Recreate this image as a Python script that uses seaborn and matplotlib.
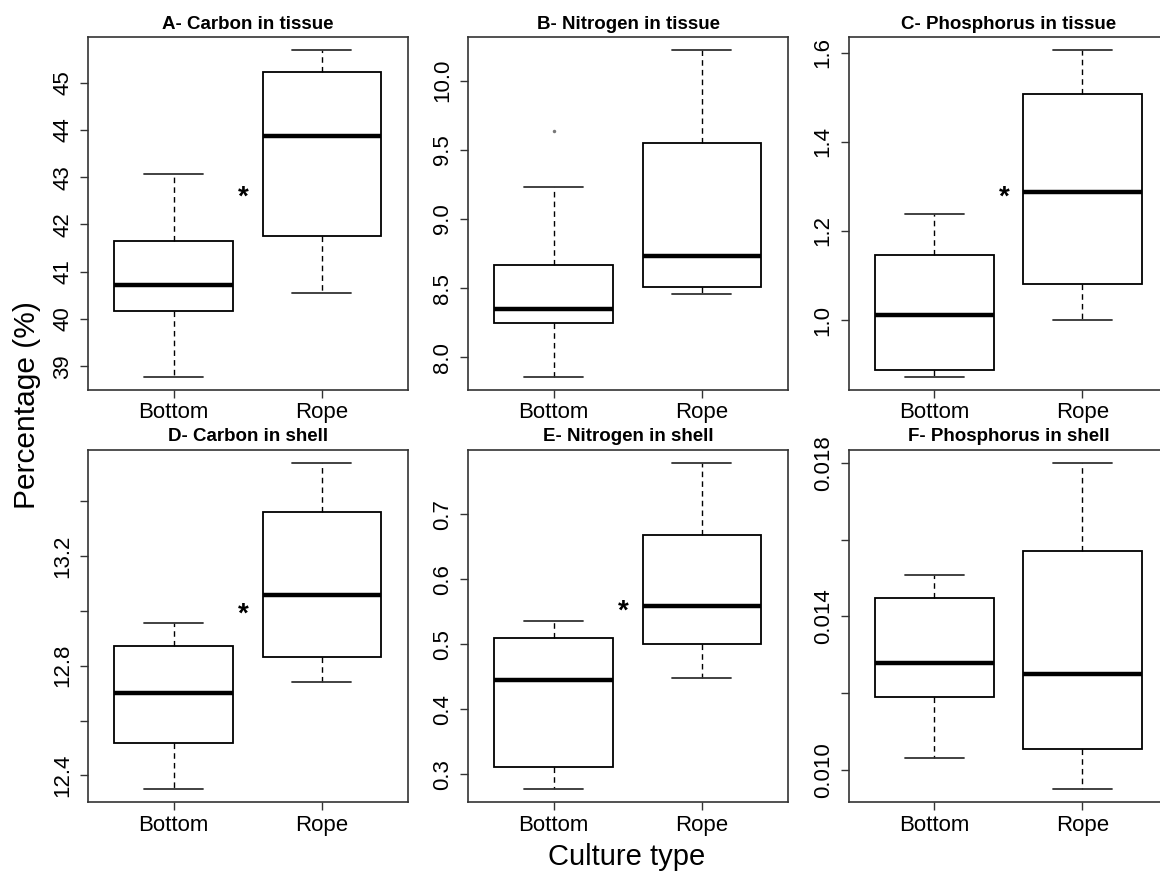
import numpy as np
import pandas as pd
import matplotlib
matplotlib.use('Agg')
import matplotlib.pyplot as plt
import seaborn as sns

# Five-number summaries (min, Q1, median, Q3, max)
groups = ['Bottom', 'Rope']

carbon_tissue_bottom = [38.78, 40.18, 40.72, 41.66, 43.06]
carbon_tissue_rope = [40.54, 41.76, 43.87, 45.23, 45.68]

nitrogen_tissue_bottom = [7.86, 8.25, 8.35, 8.67, 9.23]
nitrogen_tissue_rope = [8.46, 8.51, 8.73, 9.55, 10.22]
nitrogen_tissue_outlier = [9.64]  # Bottom

phosphorus_tissue_bottom = [0.873, 0.889, 1.012, 1.146, 1.237]
phosphorus_tissue_rope = [1.000, 1.081, 1.287, 1.507, 1.605]

carbon_shell_bottom = [12.35, 12.52, 12.70, 12.872, 12.956]
carbon_shell_rope = [12.74, 12.833, 13.057, 13.36, 13.54]

nitrogen_shell_bottom = [0.277, 0.311, 0.4445, 0.509, 0.535]
nitrogen_shell_rope = [0.448, 0.500, 0.558, 0.668, 0.779]

phosphorus_shell_bottom = [0.01031, 0.01191, 0.01279, 0.01448, 0.01508]
phosphorus_shell_rope = [0.0095, 0.01055, 0.0125, 0.01571, 0.0180]

titles = ['A- Carbon in tissue', 'B- Nitrogen in tissue', 'C- Phosphorus in tissue',
          'D- Carbon in shell', 'E- Nitrogen in shell', 'F- Phosphorus in shell']

# significance stars (None = not significant)
star_y = [42.57, None, 1.275, 12.985, 0.55, None]

# y ticks and their labels ('' = tick without label)
yticks_list = [
    [39, 40, 41, 42, 43, 44, 45],
    [8.0, 8.5, 9.0, 9.5, 10.0],
    [1.0, 1.2, 1.4, 1.6],
    [12.4, 12.6, 12.8, 13.0, 13.2, 13.4],
    [0.3, 0.4, 0.5, 0.6, 0.7],
    [0.010, 0.012, 0.014, 0.016, 0.018],
]
ylabels_list = [
    ['39', '40', '41', '42', '43', '44', '45'],
    ['8.0', '8.5', '9.0', '9.5', '10.0'],
    ['1.0', '1.2', '1.4', '1.6'],
    ['12.4', '', '12.8', '', '13.2', ''],
    ['0.3', '0.4', '0.5', '0.6', '0.7'],
    ['0.010', '', '0.014', '', '0.018'],
]

panels = [
    (carbon_tissue_bottom, carbon_tissue_rope, []),
    (nitrogen_tissue_bottom, nitrogen_tissue_rope, nitrogen_tissue_outlier),
    (phosphorus_tissue_bottom, phosphorus_tissue_rope, []),
    (carbon_shell_bottom, carbon_shell_rope, []),
    (nitrogen_shell_bottom, nitrogen_shell_rope, []),
    (phosphorus_shell_bottom, phosphorus_shell_rope, []),
]

sns.set_style('white')
plt.rcParams['font.family'] = ['Liberation Sans', 'DejaVu Sans']
plt.rcParams['text.color'] = 'black'
plt.rcParams['axes.labelcolor'] = 'black'
plt.rcParams['xtick.color'] = 'black'
plt.rcParams['ytick.color'] = 'black'

W, H = 1160, 873
fig = plt.figure(figsize=(W / 100, H / 100), dpi=100)

col_left = [88.3, 468.3, 849.0]
row_top = [37.3, 449.7]
ax_w, ax_h = 319.7, 352.5

for i, (bottom, rope, outl) in enumerate(panels):
    r, c = divmod(i, 3)
    left = col_left[c] / W
    bot = 1 - (row_top[r] + ax_h) / H
    ax = fig.add_axes([left, bot, ax_w / W, ax_h / H])

    df = pd.DataFrame({'culture': ['Bottom'] * len(bottom) + ['Rope'] * len(rope),
                       'value': bottom + rope})
    sns.boxplot(data=df, x='culture', y='value', order=groups, ax=ax,
                width=0.8, whis=(0, 100), color='white', linecolor='black',
                linewidth=1.3, showfliers=False,
                boxprops=dict(facecolor='white', edgecolor='black', linewidth=1.3),
                medianprops=dict(color='black', linewidth=3.2),
                whiskerprops=dict(color='black', linewidth=1.0, linestyle=(0, (4, 3))),
                capprops=dict(color='#333333', linewidth=1.3))

    if outl:
        odf = pd.DataFrame({'culture': ['Bottom'] * len(outl), 'value': outl})
        sns.stripplot(data=odf, x='culture', y='value', order=groups, ax=ax,
                      jitter=False, size=2.5, color='#777777', marker='o')

    allv = bottom + rope + list(outl)
    lo, hi = min(allv), max(allv)
    pad = 0.04 * (hi - lo)
    ax.set_ylim(lo - pad, hi + pad)
    ax.set_xlim(-0.577, 1.583)

    ax.set_yticks(yticks_list[i])
    ax.set_yticklabels(ylabels_list[i], rotation=90, va='center')
    ax.set_xticks([0, 1])
    ax.set_xticklabels(groups)
    ax.tick_params(axis='both', direction='out', length=6, width=1,
                   color='#333333', labelcolor='black', labelsize=16,
                   left=True, bottom=True)
    ax.tick_params(axis='y', pad=5)
    ax.tick_params(axis='x', pad=3)
    ax.set_xlabel('')
    ax.set_ylabel('')
    for sp in ax.spines.values():
        sp.set_visible(True)
        sp.set_color('#333333')
        sp.set_linewidth(1.2)

    ax.set_title(titles[i], fontsize=13.5, fontweight='bold', pad=6, color='black')

    if star_y[i] is not None:
        ax.text(0.47, star_y[i], '*', fontsize=20, fontweight='bold',
                ha='center', va='center', color='black')

fig.text(27 / W, 1 - 405 / H, 'Percentage (%)', rotation=90, fontsize=21.5,
         ha='center', va='center', color='black')
fig.text(627 / W, 1 - 857 / H, 'Culture type', fontsize=21,
         ha='center', va='center', color='black')

fig.savefig('out.png', dpi=100)
